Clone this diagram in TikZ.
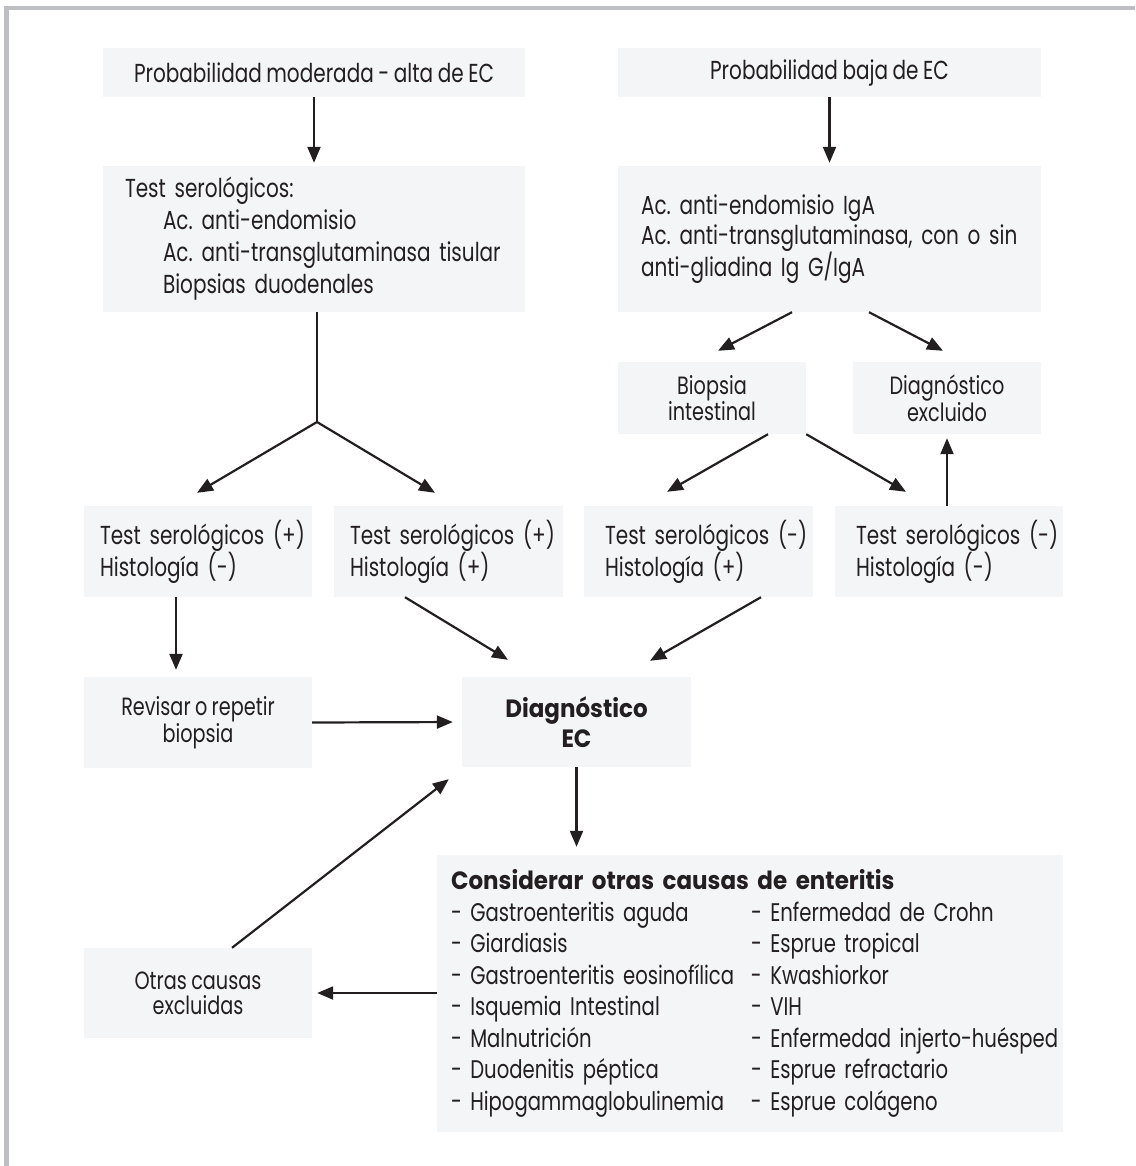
\documentclass[tikz,border=0pt]{standalone}
\usepackage{fontspec}
\setmainfont{Poppins}[FakeStretch=0.77, WordSpace=0.85]
\newfontfamily\heavyfont{Poppins}[FakeStretch=0.92, WordSpace=0.9]
\usetikzlibrary{arrows.meta,calc}
\definecolor{boxfill}{HTML}{F4F5F7}
\definecolor{ink}{HTML}{231F20}
\definecolor{framegray}{HTML}{BEBFC3}
\frenchspacing
\newcommand{\kline}[2]{\mbox{\hspace*{14pt}\makebox[300pt][l]{#1}#2}}
\tikzset{
  box/.style={fill=boxfill, draw=none, inner sep=0pt, text=ink, font=\fontsize{26}{32}\selectfont},
  tightbox/.style={box, align=center, font=\fontsize{25}{25}\selectfont},
  arr/.style={draw=ink, line width=2.2pt, -{Triangle[length=16pt,width=13pt]}},
  link/.style={draw=ink, line width=2.2pt},
}
\begin{document}
\begin{tikzpicture}[x=1pt,y=1pt]
\useasboundingbox (0,0) rectangle (1135,-1166);
\fill[white] (0,0) rectangle (1135,-1166);
\fill[framegray] (4,-6) rectangle (1135,-10);
\fill[framegray] (4,-6) rectangle (9,-1166);

\node[box, minimum width=422, minimum height=49] (A) at (314,-72.5) {Probabilidad moderada - alta de EC};
\node[box, minimum width=423, minimum height=49] (B) at (829.5,-72.5) {Probabilidad baja de EC};

\node[box, text width=422, minimum height=146, align=left] (C) at (314,-239)
  {\mbox{\hspace*{22pt}Test serológicos:}\\\mbox{\hspace*{60pt}Ac. anti-endomisio}\\\mbox{\hspace*{60pt}Ac. anti-transglutaminasa tisular}\\\mbox{\hspace*{60pt}Biopsias duodenales}};
\node[box, text width=423, minimum height=146, align=left, font=\fontsize{26}{30}\selectfont] (D) at (829.5,-239)
  {\mbox{\hspace*{23pt}Ac. anti-endomisio IgA}\\\mbox{\hspace*{23pt}Ac. anti-transglutaminasa, con o sin}\\\mbox{\hspace*{23pt}anti-gliadina Ig G/IgA}};

\node[tightbox, minimum width=188, minimum height=72] (E) at (712,-398) {Biopsia\\intestinal};
\node[tightbox, minimum width=188, minimum height=72] (F) at (947,-398) {Diagnóstico\\excluido};

\node[box, text width=228, minimum height=91, align=left] (G1) at (198,-551.5)
  {\mbox{\hspace*{16pt}Test serológicos (+)}\\\mbox{\hspace*{16pt}Histología (-)}};
\node[box, text width=229, minimum height=91, align=left] (G2) at (448.5,-551.5)
  {\mbox{\hspace*{16pt}Test serológicos (+)}\\\mbox{\hspace*{16pt}Histología (+)}};
\node[box, text width=229, minimum height=91, align=left] (G3) at (698.5,-551.5)
  {\mbox{\hspace*{21pt}Test serológicos (-)}\\\mbox{\hspace*{21pt}Histología (+)}};
\node[box, text width=228, minimum height=91, align=left] (G4) at (949,-551.5)
  {\mbox{\hspace*{21pt}Test serológicos (-)}\\\mbox{\hspace*{21pt}Histología (-)}};

\node[tightbox, minimum width=228, minimum height=91] (R) at (198,-722.5) {Revisar o repetir\\biopsia};
\node[box, align=center, minimum width=229, minimum height=90, font=\heavyfont\bfseries\fontsize{25}{30}\selectfont] (DEC) at (576.5,-722) {Diagnóstico\\EC};

\node[box, text width=626, minimum height=277, align=left, font=\fontsize{25.5}{31.5}\selectfont] (K) at (750,-993.5)
  {\mbox{\hspace*{14pt}{\heavyfont\bfseries\fontsize{25}{31.5}\selectfont Considerar otras causas de enteritis}}\\
   \kline{- Gastroenteritis aguda}{- Enfermedad de Crohn}\\
   \kline{- Giardiasis}{- Esprue tropical}\\
   \kline{- Gastroenteritis eosinofílica}{- Kwashiorkor}\\
   \kline{- Isquemia Intestinal}{- VIH}\\
   \kline{- Malnutrición}{- Enfermedad injerto-huésped}\\
   \kline{- Duodenitis péptica}{- Esprue refractario}\\
   \kline{- Hipogammaglobulinemia}{- Esprue colágeno}};

\node[tightbox, minimum width=228, minimum height=90] (O) at (198,-993) {Otras causas\\excluidas};

% connectors
\draw[arr, shorten >=3pt] (A) -- (C);
\draw[arr, shorten >=3pt] (B) -- (D);
\coordinate (J) at (317,-422);
\draw[link] ([xshift=3pt]C.south) -- (J);
\draw[arr] (J) -- ([shift={(-1pt,13pt)}]G1.north);
\draw[arr] (J) -- ([shift={(-13.5pt,13pt)}]G2.north);
\draw[arr] ([xshift=-37.5pt]D.south) -- ([shift={(6pt,11pt)}]E.north);
\draw[arr] ([xshift=39.5pt]D.south) -- ([shift={(-4pt,11pt)}]F.north);
\draw[arr] ([xshift=56pt]E.south) -- ([shift={(-31.5pt,14pt)}]G3.north);
\draw[arr] (E.south east) -- ([shift={(-43pt,14pt)}]G4.north);
\draw[arr] ([xshift=-2pt]G4.north) -- ([yshift=-4pt]F.south);
\draw[arr] ([xshift=-22pt]G1.south) -- ([shift={(-22pt,7pt)}]R.north);
\draw[arr] ([xshift=-43.5pt]G2.south) -- ([shift={(-68.5pt,17pt)}]DEC.north);
\draw[arr] ([xshift=62.5pt]G3.south) -- ([shift={(73.5pt,16pt)}]DEC.north);
\draw[arr, shorten >=9pt] (R.east) -- (DEC.west);
\draw[arr, shorten >=8pt] (DEC.south) -- (DEC.south |- K.north);
\draw[arr, shorten >=5pt] (K.west |- O.east) -- (O.east);
\draw[arr] ([xshift=34pt]O.north) -- ([shift={(-13pt,-12pt)}]DEC.south west);
\end{tikzpicture}
\end{document}
